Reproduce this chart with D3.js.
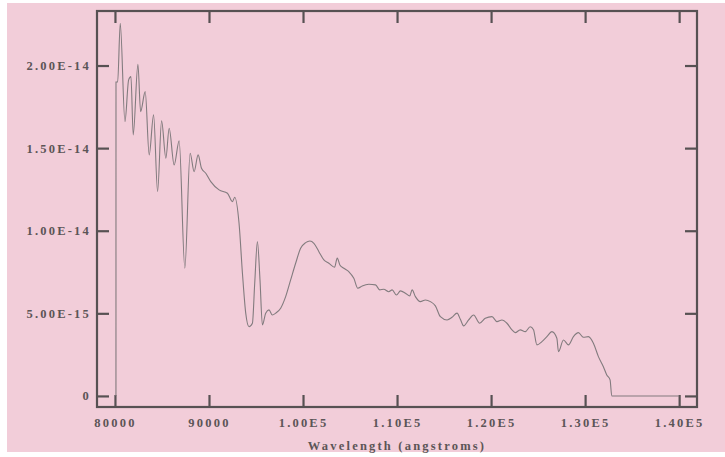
<!DOCTYPE html>
<html lang="en">
<head>
    <meta charset="UTF-8">
    <title>Spectrum</title>
    <script src="https://d3js.org/d3.v7.min.js"></script>
    <style>
        body { margin: 0; background-color: #ffffff; }
        svg { display: block; }
        .tick text, .xtitle {
            font-family: "Liberation Serif", serif;
            font-weight: bold;
            font-size: 12.5px;
            letter-spacing: 2.2px;
            fill: #5c5557;
        }
    </style>
</head>
<body>
    <svg></svg>

    <script>
        // spectrum: wavelength (angstroms) and flux in units of 1e-15
        let wavelength = [80106, 80110, 80287, 80563, 81062, 81454, 81699, 81943, 82442, 82728,
            83217, 83641, 84108, 84533, 84958, 85414, 85764, 86295, 86826, 87431,
            87994, 88418, 88843, 89204, 89661, 90191, 91072, 91964, 92495, 92739,
            93196, 93557, 93907, 94257, 94618, 94863, 95149, 95425, 95680, 96030,
            96380, 96741, 97092, 97623, 98153, 98684, 99215, 99746, 100277, 100733,
            101158, 101689, 102219, 102750, 103355, 103642, 103918, 104342, 104873, 105404,
            105828, 106295, 106996, 107708, 108164, 108589, 109120, 109481, 109937, 110362,
            110893, 111349, 111604, 111954, 112485, 113016, 113547, 114077, 114608, 115319,
            115850, 116381, 116731, 117081, 117612, 118143, 118780, 119385, 120096, 120627,
            121158, 121689, 122219, 122570, 123101, 123632, 124162, 124513, 124874, 125405,
            125935, 126466, 126997, 127167, 127698, 128228, 128759, 129290, 129821, 130352,
            130883, 131414, 131944, 132305, 132655, 132835, 140000];
        let flux = [0, 19.0, 19.0, 22.56, 16.60, 19.13, 19.33, 15.80, 20.08, 17.21,
            18.42, 14.59, 17.01, 12.37, 16.65, 14.39, 16.20, 13.98, 15.44, 7.73,
            14.69, 13.58, 14.59, 13.78, 13.48, 12.97, 12.47, 12.27, 11.76, 12.03,
            10.45, 7.43, 5.01, 4.19, 4.40, 6.82, 9.34, 7.02, 4.30, 5.01,
            5.21, 4.90, 5.01, 5.31, 6.01, 7.02, 8.03, 8.94, 9.28, 9.38,
            9.24, 8.73, 8.23, 8.03, 7.79, 8.34, 7.93, 7.73, 7.52, 7.12,
            6.52, 6.66, 6.76, 6.72, 6.42, 6.46, 6.31, 6.42, 6.11, 6.36,
            6.22, 6.05, 6.42, 6.01, 5.71, 5.81, 5.71, 5.45, 4.80, 4.60,
            4.76, 5.01, 4.64, 4.24, 4.60, 4.90, 4.40, 4.70, 4.80, 4.50,
            4.60, 4.40, 4.00, 3.83, 4.00, 3.89, 4.19, 4.00, 3.09, 3.29,
            3.59, 3.89, 3.49, 2.68, 3.39, 3.09, 3.59, 3.83, 3.55, 3.59,
            3.19, 2.38, 1.77, 1.27, 0.97, 0, 0];

        let xTicks = [80000, 90000, 100000, 110000, 120000, 130000, 140000];
        let xTickLabels = ["80000", "90000", "1.00E5", "1.10E5", "1.20E5", "1.30E5", "1.40E5"];
        let yTicks = [0, 5, 10, 15, 20];
        let yTickLabels = ["0", "5.00E-15", "1.00E-14", "1.50E-14", "2.00E-14"];

        let width = 725, height = 457;
        let margin = {top: 11, right: 28, bottom: 50, left: 97};
        let innerW = width - margin.left - margin.right;
        let innerH = height - margin.top - margin.bottom;

        let svg = d3.select("svg")
            .attr("width", width)
            .attr("height", height);

        // pink paper
        svg.append("rect")
            .attr("x", 7).attr("y", 3)
            .attr("width", width - 7).attr("height", height - 8)
            .attr("fill", "#f2cdd9");

        let g = svg.append("g")
            .attr("transform", "translate(" + margin.left + "," + margin.top + ")");

        let x = d3.scaleLinear().domain([78090, 141900]).range([0, innerW]);
        let y = d3.scaleLinear().domain([-0.67, 23.3]).range([innerH, 0]);

        let bottomAxis = d3.axisBottom(x).tickValues(xTicks)
            .tickFormat((d, i) => xTickLabels[i])
            .tickSize(-12).tickPadding(11);
        let topAxis = d3.axisTop(x).tickValues(xTicks).tickFormat("").tickSize(-12);
        let leftAxis = d3.axisLeft(y).tickValues(yTicks)
            .tickFormat((d, i) => yTickLabels[i])
            .tickSize(-12).tickPadding(6);
        let rightAxis = d3.axisRight(y).tickValues(yTicks).tickFormat("").tickSize(-12);

        let axes = [
            g.append("g").attr("transform", "translate(0," + innerH + ")").call(bottomAxis),
            g.append("g").call(topAxis),
            g.append("g").call(leftAxis),
            g.append("g").attr("transform", "translate(" + innerW + ",0)").call(rightAxis)
        ];
        axes.forEach(a => {
            a.select(".domain").remove();
            a.selectAll(".tick line").attr("stroke", "#575153").attr("stroke-width", 2.2);
        });

        // spectrum
        let line = d3.line()
            .x((d, i) => x(wavelength[i]))
            .y(d => y(d))
            .curve(d3.curveMonotoneX);
        g.append("path")
            .datum(flux)
            .attr("d", line)
            .attr("fill", "none")
            .attr("stroke", "#827b7e")
            .attr("stroke-width", 1.1);

        // frame
        g.append("rect")
            .attr("width", innerW).attr("height", innerH)
            .attr("fill", "none")
            .attr("stroke", "#575153")
            .attr("stroke-width", 2.2);

        svg.append("text")
            .attr("class", "xtitle")
            .attr("x", margin.left + innerW / 2)
            .attr("y", 450)
            .attr("text-anchor", "middle")
            .text("Wavelength (angstroms)");
    </script>
</body>
</html>
